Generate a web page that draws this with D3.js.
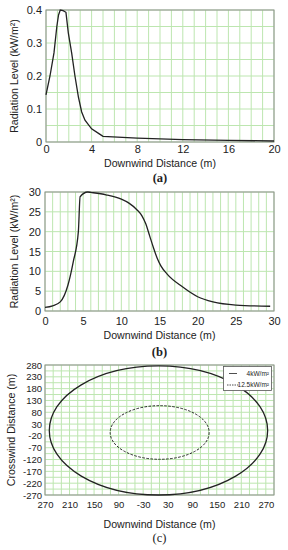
<!DOCTYPE html>
<html><head><meta charset="utf-8">
<script src="https://cdn.jsdelivr.net/npm/d3@7"></script>
<style>body{margin:0;background:#fff}svg{display:block}text{font-family:"Liberation Sans",Arial,sans-serif;fill:#222}</style>
</head><body><svg id="c" width="288" height="550"></svg>
<script>
// Chart (a)
const distA = [0,0.35,0.7,0.95,1.1,1.25,1.5,1.75,1.96,2.25,2.54,2.84,3.13,3.42,4,4.74,5,8,12,16,20];
const radA  = [0.143,0.2,0.27,0.35,0.385,0.4,0.398,0.393,0.33,0.27,0.2,0.137,0.091,0.066,0.04,0.023,0.017,0.012,0.007,0.005,0.003];
const xTicksA = [0,4,8,12,16,20];
const yTicksA = [0,0.1,0.2,0.3,0.4];
// Chart (b)
const distB = [0,1,2,3,3.7,4.37,4.6,5.6,6,8,10,11,12,12.7,13.2,13.7,14.2,14.7,15.2,16,18,20,22,25,29.5];
const radB  = [0.9,1.3,2.3,6.5,12.4,20,28.8,30,29.9,29.3,28.2,27.2,25.6,24,22,19,16,13.3,11.3,9.3,6.1,3.6,2.3,1.5,1.2];
const xTicksB = [0,5,10,15,20,25,30];
const yTicksB = [0,5,10,15,20,25,30];
// Chart (c)
const contourLabels = ["4kW/m²","12.5kW/m²"];
const contourCx = [7.5, 10.4];
const contourCy = [3, -5.5];
const contourRx = [267, 121];
const contourRy = [273, 113.5];
const xTicksC = [-270,-210,-150,-90,-30,30,90,150,210,270];
const xTickLabelsC = ["270","210","150","90","-30","30","90","150","210","270"];
const yTicksC = [280,230,180,130,80,30,-20,-70,-120,-170,-220,-270];

const svg = d3.select("#c");
const grid = "#bde6b0", frame = "#8f8f8f", ink = "#222";

function panel(o){
  const g = svg.append("g");
  const fs = (o.tickFs||11)+"px";
  const x = d3.scaleLinear().domain(o.xd).range([o.x0,o.x1]);
  const y = d3.scaleLinear().domain(o.yd).range([o.y1,o.y0]);
  g.selectAll(".vg").data(d3.range(o.xd[0], o.xd[1]+1e-9, o.xg)).join("line")
    .attr("x1",d=>x(d)).attr("x2",d=>x(d)).attr("y1",o.y0).attr("y2",o.y1)
    .attr("stroke",grid).attr("stroke-width",1);
  g.selectAll(".hg").data(d3.range(o.yd[0], o.yd[1]+1e-9, o.yg)).join("line")
    .attr("y1",d=>y(d)).attr("y2",d=>y(d)).attr("x1",o.x0).attr("x2",o.x1)
    .attr("stroke",grid).attr("stroke-width",1);
  g.append("rect").attr("x",o.x0).attr("y",o.y0).attr("width",o.x1-o.x0).attr("height",o.y1-o.y0)
    .attr("fill","none").attr("stroke",frame).attr("stroke-width",1);
  const xa = g.append("g").attr("transform",`translate(0,${o.y1})`)
    .call(d3.axisBottom(x).tickValues(o.xt).tickSize(0).tickPadding(o.xpad||4).tickFormat(o.xf||(d=>d)));
  xa.select(".domain").remove();
  xa.selectAll("text").style("font-size",fs).attr("fill",ink);
  const ya = g.append("g").attr("transform",`translate(${o.x0},0)`)
    .call(d3.axisLeft(y).tickValues(o.yt).tickSize(0).tickPadding(o.ypad||4).tickFormat(o.yf||(d=>d)));
  ya.select(".domain").remove();
  ya.selectAll("text").style("font-size",fs).attr("fill",ink);
  svg.append("text").attr("x",(o.x0+o.x1)/2).attr("y",o.titleY).attr("text-anchor","middle")
    .style("font-size","10.6px").text("Downwind Distance (m)");
  svg.append("text").attr("transform",`translate(${o.ytx||18},${(o.y0+o.y1)/2}) rotate(-90)`).attr("text-anchor","middle")
    .style("font-size","10.6px").text(o.ytitle);
  svg.append("text").attr("x",(o.x0+o.x1)/2).attr("y",o.capY).attr("text-anchor","middle")
    .style("font-family","'Liberation Serif','Times New Roman',serif").style("font-size","12.5px")
    .style("font-weight",o.capBold?"bold":"normal").text(o.cap);
  return {g,x,y};
}

// (a)
const A = panel({x0:46,x1:274,y0:10,y1:142,xd:[0,20],yd:[0,0.4],xg:1,yg:0.05,
  xt:xTicksA,yt:yTicksA,yf:d=>d===0?"0":d3.format(".1f")(d),ytitle:"Radiation Level (kW/m²)",
  titleY:167,capY:182,cap:"(a)",capBold:true,xpad:3});
A.g.append("path").datum(distA.map((d,i)=>[d,radA[i]]))
  .attr("d",d3.line().x(d=>A.x(d[0])).y(d=>A.y(d[1])))
  .attr("fill","none").attr("stroke",ink).attr("stroke-width",1.3);

// (b)
const B = panel({x0:45,x1:274,y0:192,y1:311,xd:[0,30],yd:[0,30],xg:1,yg:5,
  xt:xTicksB,yt:yTicksB,ytitle:"Radiation Level (kW/m²)",
  titleY:339,capY:356,cap:"(b)",capBold:true,xpad:6});
B.g.append("path").datum(distB.map((d,i)=>[d,radB[i]]))
  .attr("d",d3.line().curve(d3.curveMonotoneX).x(d=>B.x(d[0])).y(d=>B.y(d[1])))
  .attr("fill","none").attr("stroke",ink).attr("stroke-width",1.3);

// (c)
const C = panel({x0:45,x1:274,y0:365,y1:495,xd:[-270,290],yd:[-270,280],xg:20,yg:25,
  xt:xTicksC,yt:yTicksC,xf:(d,i)=>xTickLabelsC[i],ytitle:"Crosswind Distance (m)",
  titleY:528,capY:542,cap:"(c)",xpad:6,ypad:3,tickFs:9.5,ytx:15});
C.g.selectAll(".ell").data(contourLabels).join("ellipse")
  .attr("cx",(d,i)=>C.x(contourCx[i])).attr("cy",(d,i)=>C.y(contourCy[i]))
  .attr("rx",(d,i)=>C.x(contourRx[i])-C.x(0)).attr("ry",(d,i)=>C.y(0)-C.y(contourRy[i]))
  .attr("fill","none").attr("stroke",ink).attr("stroke-width",(d,i)=>i?1:1.3)
  .attr("stroke-dasharray",(d,i)=>i?"2.5,1.5":null);
const lg = svg.append("g");
lg.append("rect").attr("x",223.5).attr("y",366.5).attr("width",48).attr("height",24)
  .attr("fill","#fff").attr("stroke","#555").attr("stroke-width",0.8);
contourLabels.forEach((t,i)=>{
  const yy = 373.5 + i*11.5;
  lg.append("line").attr("x1",i?227:229).attr("x2",i?239:237).attr("y1",yy).attr("y2",yy)
    .attr("stroke",ink).attr("stroke-width",0.8).attr("stroke-dasharray",i?"1.5,1":null);
  lg.append("text").attr("x",269).attr("y",yy+2).attr("text-anchor","end").style("font-size","6.5px").text(t);
});
</script></body></html>
